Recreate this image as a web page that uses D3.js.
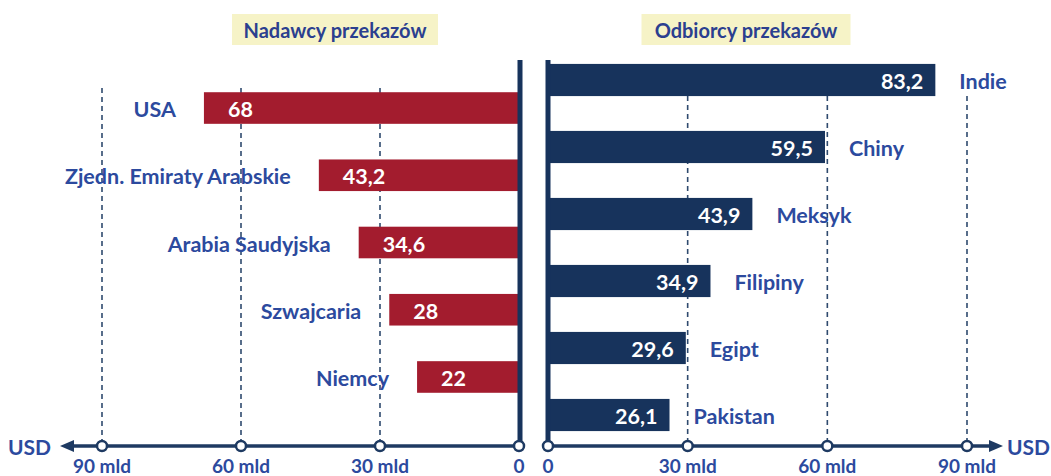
<!DOCTYPE html>
<html>
<head>
<meta charset="utf-8">
<style>
  body { margin: 0; background: #fff; }
  svg { display: block; font-family: Lato, 'Open Sans', sans-serif; font-weight: 700; }
  .cat { fill: #2c4a9e; font-size: 21.5px; }
  .usd { fill: #2c4a9e; font-size: 21px; }
  .val { fill: #fff; font-size: 21.5px; }
  .tick { fill: #2c4a9e; font-size: 19px; }
  .grid { stroke: #2f4a6e; stroke-width: 1.6; stroke-dasharray: 5,4; }
</style>
</head>
<body>
<script src="https://cdnjs.cloudflare.com/ajax/libs/d3/7.8.5/d3.min.js"></script>
<script>

// senders (left panel)
var senders = ["USA", "Zjedn. Emiraty Arabskie", "Arabia Saudyjska", "Szwajcaria", "Niemcy"];
var senderValues = [68, 43.2, 34.6, 28, 22];

// receivers (right panel)
var receivers = ["Indie", "Chiny", "Meksyk", "Filipiny", "Egipt", "Pakistan"];
var receiverValues = [83.2, 59.5, 43.9, 34.9, 29.6, 26.1];

var ticks = [0, 30, 60, 90];
var tickLabel = function(d) { return d === 0 ? "0" : d + " mld"; };
var titles = ["Nadawcy przekazów", "Odbiorcy przekazów"];

var width = 1051, height = 476;
var red = "#a31c2e", navy = "#17335c", axisCol = "#1e3a62";
var fmt = function(v) { return String(v).replace(".", ","); };

var svg = d3.select("body").append("svg")
    .attr("width", width)
    .attr("height", height);

var axisY = 446;

var xL = d3.scaleLinear().domain([0, 90]).range([519, 102]);
var xR = d3.scaleLinear().domain([0, 90]).range([548, 967]);

var yL = d3.scaleBand().domain(senders).range([74.4, 410.6]).paddingInner(0.53).paddingOuter(0.265);
var yR = d3.scaleBand().domain(receivers).range([46.5, 448.5]).paddingInner(0.52).paddingOuter(0.26);

// title boxes
var tb = [{ t: titles[0], cx: 335, w: 206 }, { t: titles[1], cx: 746, w: 209 }];
var tg = svg.selectAll(".title").data(tb).enter().append("g");
tg.append("rect")
    .attr("x", function(d) { return d.cx - d.w / 2; })
    .attr("y", 14).attr("width", function(d) { return d.w; }).attr("height", 31)
    .attr("fill", "#f6f3c7");
tg.append("text")
    .attr("x", function(d) { return d.cx; }).attr("y", 30)
    .attr("text-anchor", "middle").attr("dominant-baseline", "central")
    .attr("fill", "#2b3f8f").style("font-size", "20px")
    .text(function(d) { return d.t; });

// gridlines
svg.selectAll(".gl").data(ticks.filter(function(d) { return d > 0; })).enter().append("line")
    .attr("class", "grid")
    .attr("x1", function(d) { return xL(d); }).attr("x2", function(d) { return xL(d); })
    .attr("y1", 88).attr("y2", axisY - 5);
svg.selectAll(".gr").data(ticks.filter(function(d) { return d > 0; })).enter().append("line")
    .attr("class", "grid")
    .attr("x1", function(d) { return xR(d); }).attr("x2", function(d) { return xR(d); })
    .attr("y1", 96).attr("y2", axisY - 5);

// left bars
svg.selectAll(".barL").data(senders).enter().append("rect")
    .attr("fill", red)
    .attr("x", function(d, i) { return xL(senderValues[i]); })
    .attr("y", function(d) { return yL(d); })
    .attr("width", function(d, i) { return xL(0) - xL(senderValues[i]); })
    .attr("height", yL.bandwidth());

svg.selectAll(".valL").data(senders).enter().append("text")
    .attr("class", "val")
    .attr("x", function(d, i) { return xL(senderValues[i]) + 24; })
    .attr("y", function(d) { return yL(d) + yL.bandwidth() / 2 + 1; })
    .attr("dominant-baseline", "central")
    .text(function(d, i) { return fmt(senderValues[i]); });

svg.selectAll(".catL").data(senders).enter().append("text")
    .attr("class", "cat")
    .attr("x", function(d, i) { return xL(senderValues[i]) - 28; })
    .attr("y", function(d) { return yL(d) + yL.bandwidth() / 2 + 1; })
    .attr("text-anchor", "end")
    .attr("dominant-baseline", "central")
    .text(function(d) { return d; });

// right bars
svg.selectAll(".barR").data(receivers).enter().append("rect")
    .attr("fill", navy)
    .attr("x", xR(0))
    .attr("y", function(d) { return yR(d); })
    .attr("width", function(d, i) { return xR(receiverValues[i]) - xR(0); })
    .attr("height", yR.bandwidth());

svg.selectAll(".valR").data(receivers).enter().append("text")
    .attr("class", "val")
    .attr("x", function(d, i) { return xR(receiverValues[i]) - 12; })
    .attr("y", function(d) { return yR(d) + yR.bandwidth() / 2 + 1; })
    .attr("text-anchor", "end")
    .attr("dominant-baseline", "central")
    .text(function(d, i) { return fmt(receiverValues[i]); });

svg.selectAll(".catR").data(receivers).enter().append("text")
    .attr("class", "cat")
    .attr("x", function(d, i) { return xR(receiverValues[i]) + 24; })
    .attr("y", function(d) { return yR(d) + yR.bandwidth() / 2 + 1; })
    .attr("dominant-baseline", "central")
    .text(function(d) { return d; });

// vertical zero axes
svg.append("line").attr("x1", 520).attr("x2", 520).attr("y1", 60).attr("y2", axisY)
    .attr("stroke", navy).attr("stroke-width", 5);
svg.append("line").attr("x1", xR(0)).attr("x2", xR(0)).attr("y1", 60).attr("y2", axisY)
    .attr("stroke", navy).attr("stroke-width", 5);

// horizontal axes with arrows
svg.append("line").attr("x1", 70).attr("x2", xL(0)).attr("y1", axisY).attr("y2", axisY)
    .attr("stroke", axisCol).attr("stroke-width", 3.5);
svg.append("path").attr("d", "M60," + axisY + "L74," + (axisY - 6) + "L74," + (axisY + 6) + "Z")
    .attr("fill", axisCol);
svg.append("line").attr("x1", xR(0)).attr("x2", 993).attr("y1", axisY).attr("y2", axisY)
    .attr("stroke", axisCol).attr("stroke-width", 3.5);
svg.append("path").attr("d", "M1003," + axisY + "L989," + (axisY - 6) + "L989," + (axisY + 6) + "Z")
    .attr("fill", axisCol);

svg.append("text").attr("class", "usd").attr("x", 8).attr("y", axisY)
    .attr("dominant-baseline", "central").text("USD");
svg.append("text").attr("class", "usd").attr("x", 1007).attr("y", axisY)
    .attr("dominant-baseline", "central").text("USD");

// tick markers and labels
[xL, xR].forEach(function(sc) {
  svg.selectAll(null).data(ticks).enter().append("circle")
      .attr("cx", function(d) { return sc(d); }).attr("cy", axisY).attr("r", 5)
      .attr("fill", "#fff").attr("stroke", axisCol).attr("stroke-width", 2.5);
  svg.selectAll(null).data(ticks).enter().append("text")
      .attr("class", "tick")
      .attr("x", function(d) { return sc(d); }).attr("y", 465)
      .attr("text-anchor", "middle").attr("dominant-baseline", "central")
      .text(tickLabel);
});

</script>
</body>
</html>
